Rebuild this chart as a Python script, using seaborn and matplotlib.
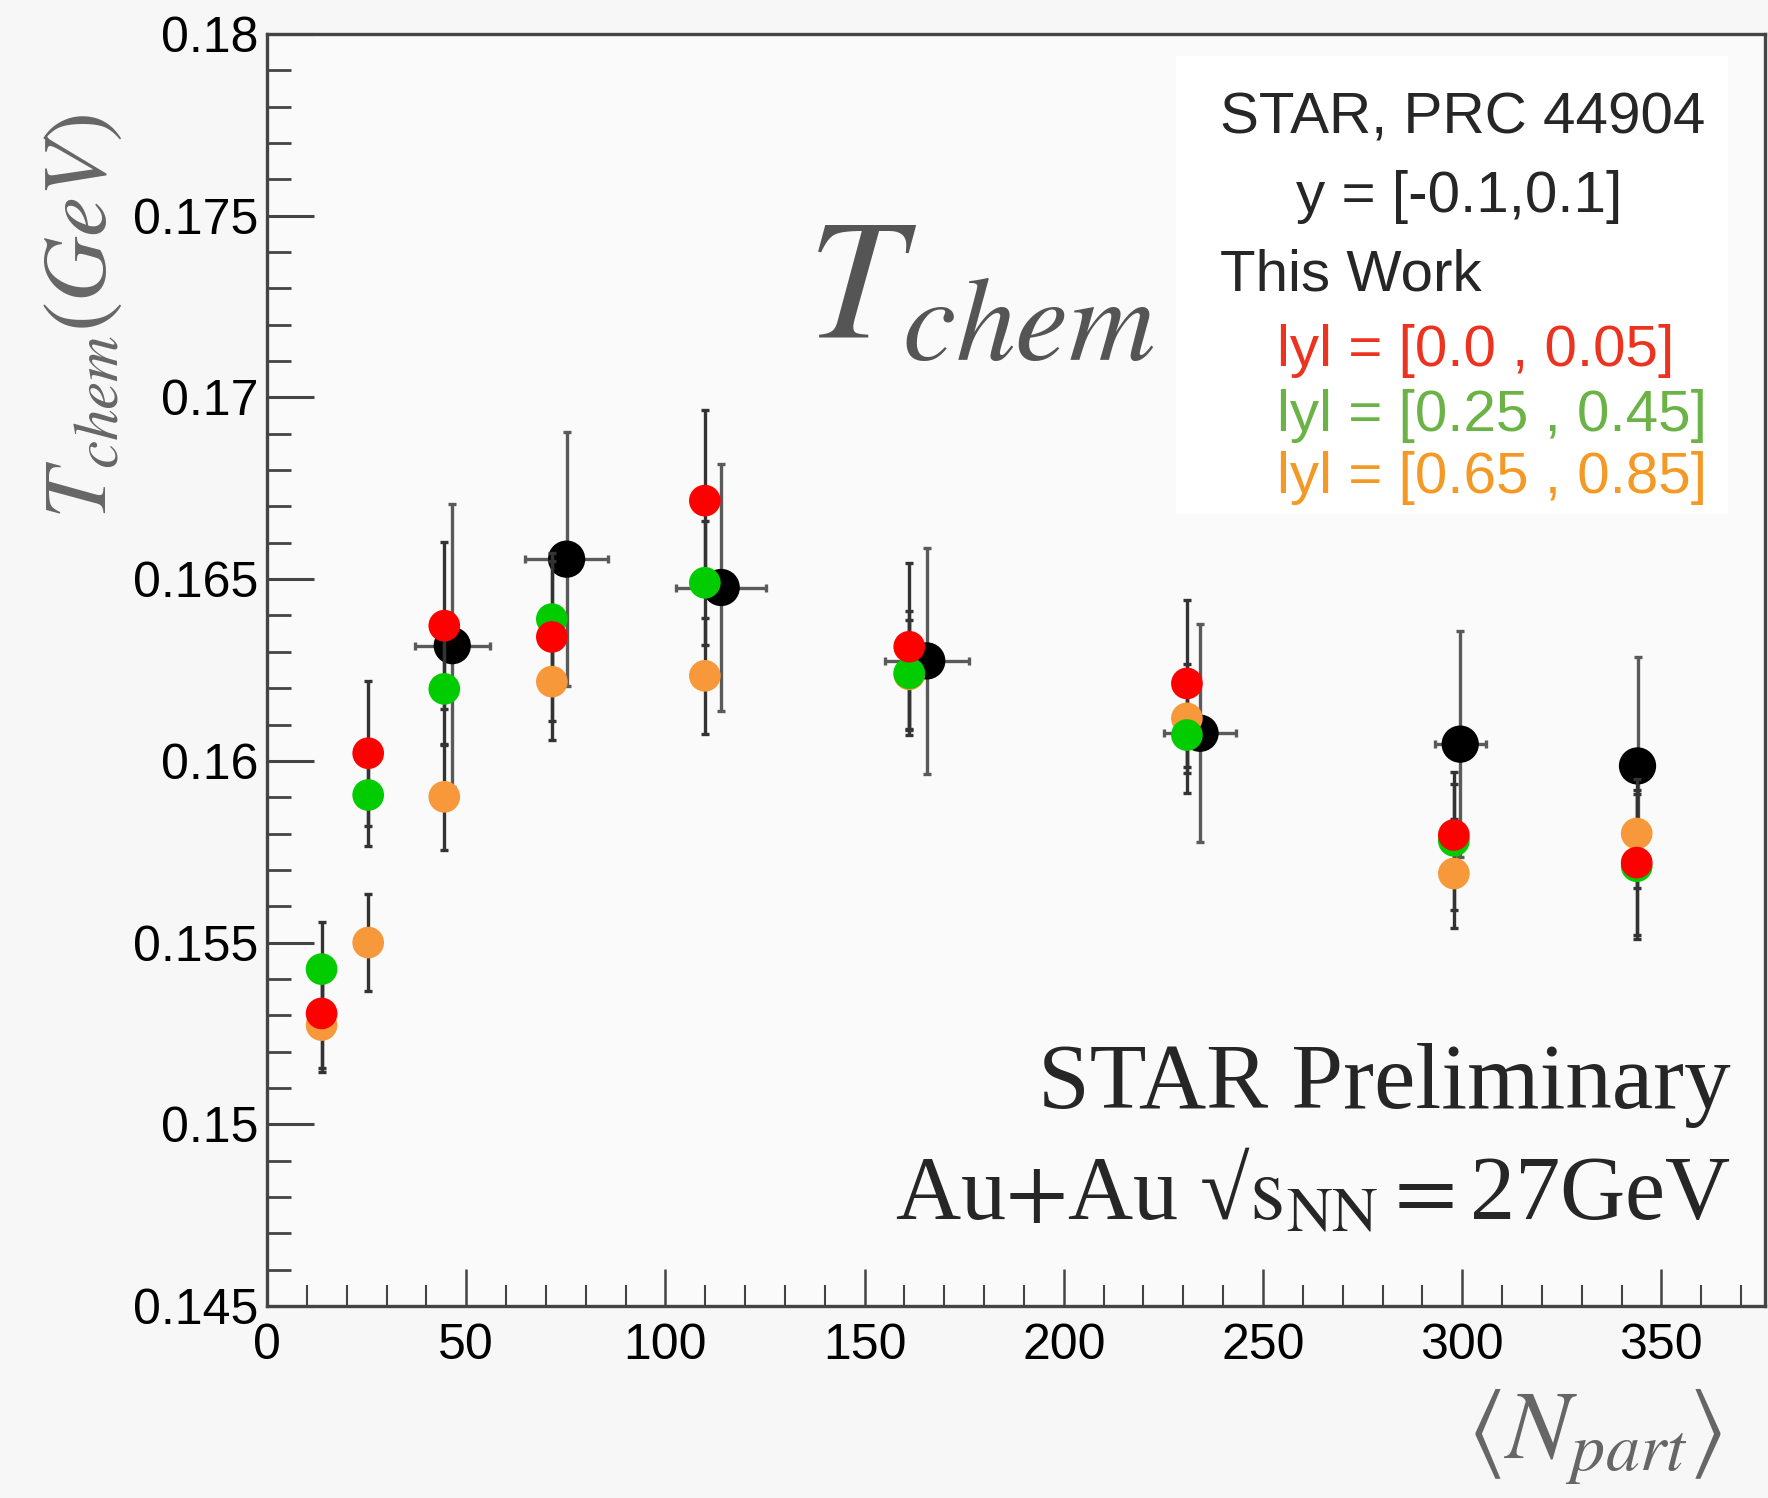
import matplotlib
matplotlib.use("Agg")
import matplotlib.pyplot as plt
import seaborn as sns
import pandas as pd
from matplotlib.ticker import MultipleLocator, FormatStrFormatter
from matplotlib.patches import Rectangle

# STAR published points (black)
npart_star = [46.5, 75.2, 114.0, 165.6, 234.2, 299.5, 344.0]
npart_star_err = [9.4, 10.4, 11.3, 10.5, 9.0, 6.4, 0.0]
tchem_star = [0.16317, 0.16555, 0.16477, 0.16275, 0.16076, 0.16046, 0.15986]
tchem_star_err = [0.0039, 0.0035, 0.0034, 0.0031, 0.0030, 0.0031, 0.0030]

# this work, three rapidity windows
npart_work = [13.7, 25.4, 44.5, 71.5, 109.9, 161.2, 230.9, 297.9, 343.8]
tchem_red = [0.15305, 0.16021, 0.16372, 0.16341, 0.16716, 0.16314, 0.16213, 0.15796, 0.15720]
err_red = [0.0015, 0.0020, 0.0023, 0.0023, 0.0025, 0.0023, 0.0023, 0.0014, 0.0020]
tchem_green = [0.15427, 0.15906, 0.16198, 0.16390, 0.16490, 0.16241, 0.16071, 0.15780, 0.15710]
err_green = [0.0013, 0.0014, 0.00155, 0.0016, 0.0017, 0.0017, 0.0016, 0.0019, 0.0020]
tchem_orange = [0.15273, 0.15500, 0.15901, 0.16218, 0.16234, 0.16238, 0.16117, 0.15690, 0.15800]
err_orange = [0.0013, 0.00133, 0.00145, 0.0016, 0.0016, 0.0015, 0.0015, 0.0015, 0.0015]

labels = ["lyl = [0.0 , 0.05]", "lyl = [0.25 , 0.45]", "lyl = [0.65 , 0.85]"]
marker_colors = ["#ff0000", "#00cc00", "#f7993a"]
text_colors = ["#ec3320", "#6cb347", "#f39a26"]

sns.set_style("ticks")
plt.rcParams["font.family"] = ["Liberation Sans", "DejaVu Sans"]
plt.rcParams["mathtext.fontset"] = "stix"

fig = plt.figure(figsize=(17.68, 14.98), dpi=100, facecolor="#f7f7f7")
ax = fig.add_axes([267 / 1768, 192 / 1498, 1498 / 1768, 1272 / 1498])
ax.set_facecolor("#fafafa")

# white box behind the legend text
ax.add_patch(Rectangle((0.607, 0.623), 0.368, 0.36, transform=ax.transAxes,
                       facecolor="white", edgecolor="none", zorder=0))

star = pd.DataFrame({"npart": npart_star, "tchem": tchem_star})
ax.errorbar(npart_star, tchem_star, xerr=npart_star_err, yerr=tchem_star_err,
            fmt="none", ecolor="#5a5a5a", elinewidth=2.4, capsize=3, capthick=2.4, zorder=2)
sns.scatterplot(data=star, x="npart", y="tchem", color="black", s=720,
                edgecolor="none", ax=ax, zorder=3)

series = [tchem_orange, tchem_green, tchem_red]
errs = [err_orange, err_green, err_red]
cols = [marker_colors[2], marker_colors[1], marker_colors[0]]
for t, e, c in zip(series, errs, cols):
    ax.errorbar(npart_work, t, yerr=e, fmt="none", ecolor="#333333",
                elinewidth=2.4, capsize=3, capthick=2.4, zorder=4)
    df = pd.DataFrame({"npart": npart_work, "tchem": t})
    sns.scatterplot(data=df, x="npart", y="tchem", color=c, s=520,
                    edgecolor="none", ax=ax, zorder=5)

ax.set_xlim(0, 376)
ax.set_ylim(0.145, 0.18)
ax.xaxis.set_major_locator(MultipleLocator(50))
ax.xaxis.set_minor_locator(MultipleLocator(10))
ax.yaxis.set_major_locator(MultipleLocator(0.005))
ax.yaxis.set_minor_locator(MultipleLocator(0.001))
ax.yaxis.set_major_formatter(FormatStrFormatter("%g"))

ax.tick_params(axis="both", which="both", direction="in", colors="#444444",
               labelcolor="black", labelsize=36)
ax.tick_params(axis="y", which="major", length=34, width=2.2, pad=6)
ax.tick_params(axis="y", which="minor", length=17, width=2.0)
ax.tick_params(axis="x", which="major", length=27, width=1.8, pad=12)
ax.tick_params(axis="x", which="minor", length=15, width=1.5)
for side in ["left", "bottom", "top", "right"]:
    ax.spines[side].set_color("#444444")
    ax.spines[side].set_linewidth(2.4)

ax.set_ylabel(r"$T_{chem}(GeV)$", fontsize=65, color="#666666")
ax.yaxis.set_label_coords(-0.095, 0.778)
ax.set_xlabel(r"$\langle N_{part}\rangle$", fontsize=70, color="#666666")
ax.xaxis.set_label_coords(0.886, -0.064)

ax.text(135.5, 0.17163, r"$T_{chem}$", fontsize=123, color="#555555", va="baseline")

ax.text(0.636, 0.922, "STAR, PRC 44904", transform=ax.transAxes, fontsize=42, va="baseline")
ax.text(0.796, 0.860, "y = [-0.1,0.1]", transform=ax.transAxes, fontsize=42,
        va="baseline", ha="center")
ax.text(0.636, 0.798, "This Work", transform=ax.transAxes, fontsize=42, va="baseline")
for lab, c, yy in zip(labels, text_colors, [0.739, 0.688, 0.639]):
    ax.text(0.674, yy, lab, transform=ax.transAxes, fontsize=42, va="baseline", color=c)

ax.text(0.977, 0.156, "STAR Preliminary", transform=ax.transAxes, fontsize=67,
        ha="right", va="baseline", family=["Liberation Serif", "DejaVu Serif"])
ax.text(0.977, 0.068, r"Au$+$Au √$\mathrm{s}_{\mathrm{NN}}$$=$27GeV", transform=ax.transAxes,
        fontsize=65, ha="right", va="baseline", family=["Liberation Serif", "DejaVu Serif"])

fig.savefig("out.png", dpi=100, facecolor=fig.get_facecolor())
